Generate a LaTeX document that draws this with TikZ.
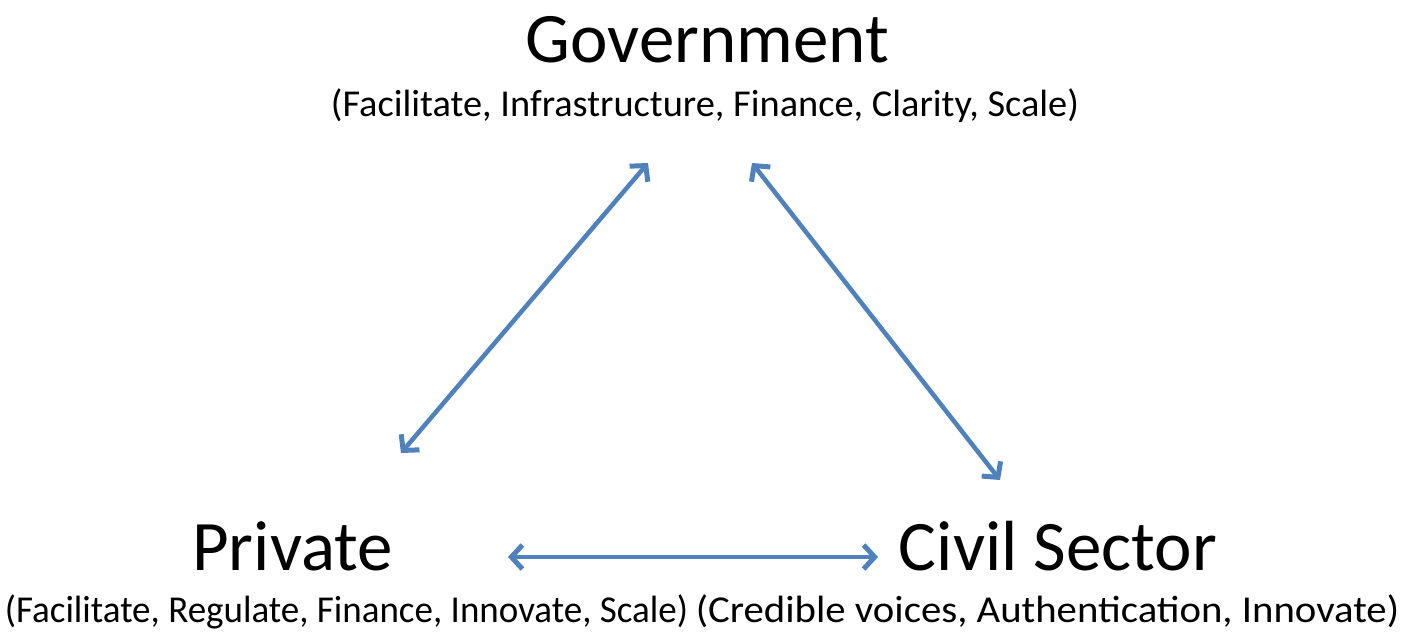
\documentclass[tikz,border=0pt]{standalone}
\usepackage{fontspec}
\setmainfont{Carlito}
\usetikzlibrary{arrows.meta}
\definecolor{arrowblue}{RGB}{79,129,189}
\tikzset{
  title/.style={anchor=base, inner sep=0pt, font=\fontsize{71}{80}\selectfont},
  sub/.style={anchor=base, inner sep=0pt, font=\fontsize{38}{44}\selectfont},
  tip/.style={Straight Barb[length=11pt,width=24pt,line width=5pt,round]},
  link/.style={draw=arrowblue, line width=4.5pt, {Straight Barb[length=11pt,width=24pt,line width=5pt]}-{Straight Barb[length=11pt,width=24pt,line width=5pt]}}
}
\begin{document}
\begin{tikzpicture}[x=1pt,y=-1pt]
\useasboundingbox[fill=white] (0,0) rectangle (1404,633);
\node[title] (gov) at (707.5,62) {Government};
\node[sub] (govsub) at (705,116) {\scalebox{1.01}[1]{(Facilitate, Infrastructure, Finance, Clarity, Scale)}};
\node[title] (priv) at (292.5,570) {Private};
\node[title] (civ) at (1058,570) {Civil Sector};
\node[sub] (privsub) at (346.5,622) {\scalebox{0.974}[1]{(Facilitate, Regulate, Finance, Innovate, Scale)}};
\node[sub] (civsub) at (1047.5,622) {\scalebox{1.073}[1]{(Credible voices, Authentication, Innovate)}};
\coordinate (a1) at (648,163);
\coordinate (a2) at (401,453);
\coordinate (b1) at (752,163);
\coordinate (b2) at (1000,480);
\coordinate (c1) at (508,557);
\coordinate (c2) at (878,557);
\draw[link] (a2) -- (a1);
\draw[link] (b1) -- (b2);
\draw[link] (c1) -- (c2);
\end{tikzpicture}
\end{document}
